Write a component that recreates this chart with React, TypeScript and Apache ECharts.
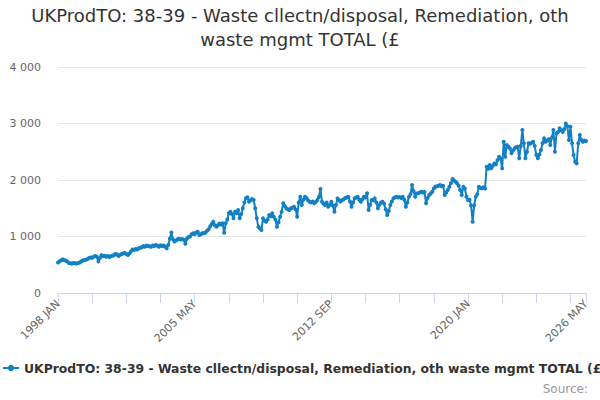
import React, { useEffect, useRef } from 'react';
import * as echarts from 'echarts';

const MONTHS = ['JAN', 'FEB', 'MAR', 'APR', 'MAY', 'JUN', 'JUL', 'AUG', 'SEP', 'OCT', 'NOV', 'DEC'];
const FIRST_YEAR = 1998;

// monthly values, one row per year (1998 .. 2026 MAY)
const values: number[] = [
  540, 560, 580, 595, 585, 570, 555, 530, 525, 520, 530, 525,
  520, 530, 540, 560, 575, 585, 590, 600, 620, 630, 625, 640,
  655, 640, 560, 620, 670, 650, 660, 640, 655, 635, 650, 660,
  670, 690, 680, 655, 675, 690, 700, 710, 690, 672, 700, 740,
  770, 760, 780, 770, 790, 800, 810, 830, 820, 840, 830, 825,
  820, 840, 830, 850, 835, 820, 845, 830, 840, 820, 790, 850,
  960, 1070, 950, 910, 930, 950, 960, 945, 955, 940, 870, 960,
  990, 1000, 1040, 1056, 1040, 1070, 1085, 1026, 1040, 1060, 1056, 1070,
  1100, 1130, 1180, 1220, 1262, 1200, 1173, 1200, 1230, 1210, 1233, 1067,
  1233, 1300, 1410, 1439, 1400, 1322, 1440, 1410, 1469, 1322, 1400, 1499,
  1600, 1676, 1694, 1616, 1640, 1664, 1646, 1500, 1322, 1173, 1140, 1115,
  1322, 1280, 1262, 1300, 1380, 1360, 1410, 1350, 1300, 1173, 1250, 1350,
  1439, 1587, 1540, 1499, 1480, 1469, 1500, 1510, 1528, 1480, 1350, 1600,
  1705, 1558, 1650, 1705, 1680, 1640, 1616, 1600, 1620, 1587, 1610, 1646,
  1700, 1840, 1616, 1580, 1558, 1600, 1528, 1560, 1616, 1550, 1439, 1560,
  1675, 1640, 1620, 1646, 1660, 1680, 1690, 1705, 1620, 1528, 1600, 1675,
  1690, 1705, 1650, 1616, 1660, 1705, 1690, 1764, 1469, 1560, 1646, 1640,
  1675, 1600, 1499, 1560, 1600, 1616, 1580, 1480, 1380, 1450, 1558, 1620,
  1675, 1690, 1705, 1690, 1700, 1680, 1705, 1650, 1528, 1600, 1705, 1750,
  1911, 1800, 1705, 1760, 1764, 1780, 1793, 1780, 1790, 1587, 1680, 1735,
  1760, 1793, 1850, 1882, 1890, 1900, 1911, 1890, 1900, 1735, 1780, 1823,
  1880, 1941, 2018, 1990, 1970, 1940, 1900, 1823, 1735, 1882, 1850, 1705,
  1646, 1650, 1550, 1262, 1550, 1705, 1750, 1882, 1860, 1852, 1870, 1850,
  2235, 2200, 2264, 2206, 2250, 2294, 2280, 2350, 2412, 2380, 2206, 2678,
  2412, 2620, 2590, 2560, 2472, 2520, 2560, 2580, 2590, 2384, 2600, 2885,
  2650, 2384, 2500, 2650, 2640, 2660, 2678, 2600, 2442, 2384, 2450, 2530,
  2650, 2738, 2678, 2700, 2720, 2620, 2750, 2885, 2500, 2826, 2850, 2915,
  2880, 2850, 2900, 3000, 2950, 2708, 2945, 2650, 2442, 2324, 2294, 2650,
  2796, 2708, 2678, 2700, 2690,
];

const categories: string[] = values.map(
  (_, i) => `${FIRST_YEAR + Math.floor(i / 12)} ${MONTHS[i % 12]}`
);

const SERIES_NAME = 'UKProdTO: 38-39 - Waste cllectn/disposal, Remediation, oth waste mgmt TOTAL (£';
const TITLE = 'UKProdTO: 38-39 - Waste cllectn/disposal, Remediation, oth\nwaste mgmt TOTAL (£';

const LABEL_STEP = 88;
const TICK_STEP = 22;

const App: React.FC = () => {
  const chartRef = useRef<HTMLDivElement>(null);

  useEffect(() => {
    document.body.style.margin = '0';
    if (!chartRef.current) return;
    const chart = echarts.init(chartRef.current, undefined, { renderer: 'svg' });
    const last = categories.length - 1;

    chart.setOption({
      animation: false,
      textStyle: { fontFamily: 'DejaVu Sans' },
      title: {
        text: TITLE,
        left: 'center',
        top: 3,
        padding: 0,
        textStyle: { fontSize: 18, fontWeight: 'normal', color: '#333333', lineHeight: 24 },
      },
      grid: { left: 58, right: 14, top: 67, bottom: 107 },
      legend: {
        left: 2,
        top: 362,
        padding: 0,
        itemWidth: 16,
        itemHeight: 8,
        itemGap: 4,
        textStyle: { fontSize: 12.4, fontWeight: 'bold', color: '#333333' },
        data: [SERIES_NAME],
      },
      graphic: [
        {
          type: 'text',
          right: 12,
          top: 383,
          style: { text: 'Source:', fontSize: 12, fill: '#999999', fontFamily: 'DejaVu Sans' },
        },
      ],
      xAxis: {
        type: 'category',
        data: categories,
        boundaryGap: false,
        axisLine: { lineStyle: { color: '#ccd6eb' } },
        axisTick: {
          length: 10,
          lineStyle: { color: '#ccd6eb' },
          interval: (i: number) => i % TICK_STEP === 0 || i === last,
        },
        axisLabel: {
          rotate: 45,
          color: '#666666',
          fontSize: 11,
          margin: 9,
          interval: (i: number) => i % LABEL_STEP === 0 || i === last,
        },
      },
      yAxis: {
        type: 'value',
        min: 0,
        max: 4000,
        interval: 1000,
        axisLine: { show: false },
        axisTick: { show: false },
        axisLabel: {
          color: '#666666',
          fontSize: 11,
          margin: 17,
          formatter: (v: number) => String(v).replace(/\B(?=(\d{3})+(?!\d))/g, ' '),
        },
        splitLine: { lineStyle: { color: '#e6e6e6' } },
      },
      series: [
        {
          name: SERIES_NAME,
          type: 'line',
          data: values,
          color: '#1380c4',
          symbol: 'circle',
          symbolSize: 4,
          showSymbol: true,
          showAllSymbol: true,
          lineStyle: { width: 2 },
        },
      ],
    });

    return () => {
      chart.dispose();
    };
  }, []);

  return <div ref={chartRef} style={{ width: 600, height: 400 }} />;
};

export default App;
